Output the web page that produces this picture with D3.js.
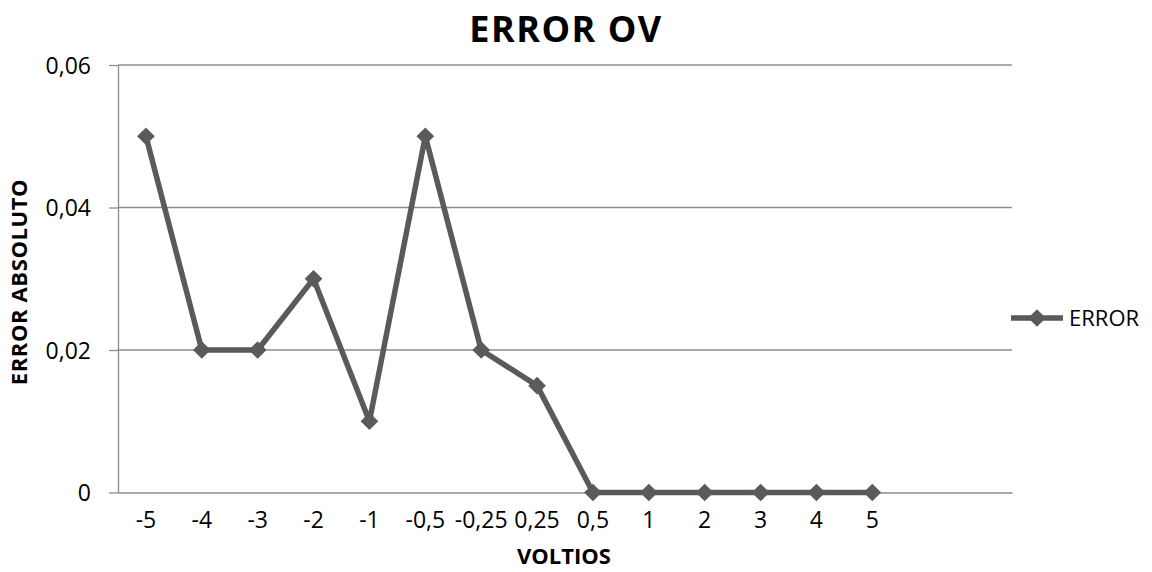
<!DOCTYPE html>
<html>
<head>
<meta charset="utf-8">
<script src="https://cdn.jsdelivr.net/npm/d3@7"></script>
<style>
  html, body { margin: 0; padding: 0; background: #fff; }
  svg { display: block; font-family: "Open Sans", Lato, sans-serif; }
</style>
</head>
<body>
<svg id="chart" width="1152" height="572"></svg>
<script>
// Voltage categories along the x axis (two trailing empty slots)
const categories = ["-5", "-4", "-3", "-2", "-1", "-0,5", "-0,25", "0,25", "0,5", "1", "2", "3", "4", "5", "", " "];
// Absolute error per voltage
const errorValues = [0.05, 0.02, 0.02, 0.03, 0.01, 0.05, 0.02, 0.015, 0, 0, 0, 0, 0, 0];
const yTicks = [0, 0.02, 0.04, 0.06];
const yTickLabels = ["0", "0,02", "0,04", "0,06"];

const svg = d3.select("#chart");
const margin = { left: 118, right: 1012, top: 65, bottom: 492.5 };

const x = d3.scaleBand().domain(categories).range([margin.left, margin.right]).paddingInner(0).paddingOuter(0);
const y = d3.scaleLinear().domain([0, 0.06]).range([margin.bottom, margin.top]);

const gridColor = "#8c8c8c";
const lineColor = "#5a5a5a";
const labelFont = "'Open Sans', sans-serif";
const tickFontSize = 23;

// Horizontal gridlines
svg.append("g")
  .selectAll("line")
  .data(yTicks.filter(d => d > 0))
  .join("line")
  .attr("x1", margin.left).attr("x2", margin.right)
  .attr("y1", d => y(d)).attr("y2", d => y(d))
  .attr("stroke", gridColor).attr("stroke-width", 1.3);

// Y axis
const yAxis = svg.append("g")
  .attr("transform", `translate(${margin.left},0)`)
  .call(d3.axisLeft(y).tickValues(yTicks).tickFormat((d, i) => yTickLabels[i]).tickSize(9).tickSizeOuter(0));
yAxis.select(".domain").attr("stroke", gridColor).attr("stroke-width", 1.3);
yAxis.selectAll(".tick line").attr("stroke", gridColor).attr("stroke-width", 1.3);
yAxis.selectAll(".tick text")
  .attr("x", -27).attr("dy", "0.36em")
  .attr("font-size", tickFontSize).attr("fill", "#000")
  .attr("font-family", labelFont);

// X axis
const xAxis = svg.append("g")
  .attr("transform", `translate(0,${margin.bottom})`)
  .call(d3.axisBottom(x).tickSize(0).tickSizeOuter(0));
xAxis.select(".domain").attr("stroke", gridColor).attr("stroke-width", 1.3);
xAxis.selectAll(".tick text")
  .attr("y", 19).attr("dy", "0.71em")
  .attr("font-size", tickFontSize).attr("fill", "#000")
  .attr("font-family", labelFont);

// Series line
const pts = errorValues.map((v, i) => [x(categories[i]) + x.bandwidth() / 2, y(v)]);
svg.append("path")
  .attr("d", d3.line()(pts))
  .attr("fill", "none")
  .attr("stroke", lineColor)
  .attr("stroke-width", 5.5)
  .attr("stroke-linejoin", "round");

// Diamond markers
const diamond = d3.symbol().type(d3.symbolDiamond2).size(200);
svg.append("g")
  .selectAll("path")
  .data(pts)
  .join("path")
  .attr("d", diamond)
  .attr("transform", d => `translate(${d[0]},${d[1]})`)
  .attr("fill", lineColor);

// Title
svg.append("text")
  .attr("x", 566).attr("y", 42)
  .attr("text-anchor", "middle")
  .attr("font-size", 36).attr("font-weight", "bold")
  .attr("letter-spacing", 1.5)
  .text("ERROR OV");

// Axis titles
svg.append("text")
  .attr("x", 564).attr("y", 564)
  .attr("text-anchor", "middle")
  .attr("font-size", 22).attr("font-weight", "bold")
  .text("VOLTIOS");

svg.append("text")
  .attr("transform", "translate(27,282) rotate(-90)")
  .attr("text-anchor", "middle")
  .attr("font-size", 22).attr("font-weight", "bold")
  .attr("letter-spacing", 0.6)
  .text("ERROR ABSOLUTO");

// Legend
const legend = svg.append("g").attr("transform", "translate(1011,318)");
legend.append("line")
  .attr("x1", 0).attr("x2", 52)
  .attr("stroke", lineColor).attr("stroke-width", 5.5);
legend.append("path")
  .attr("d", diamond)
  .attr("transform", "translate(26,0)")
  .attr("fill", lineColor);
legend.append("text")
  .attr("x", 58).attr("dy", "0.36em")
  .attr("font-size", 22)
  .text("ERROR");
</script>
</body>
</html>
